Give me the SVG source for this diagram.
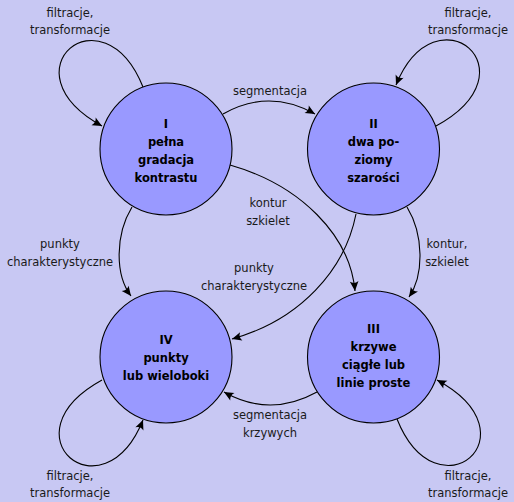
<svg xmlns="http://www.w3.org/2000/svg" width="514" height="502" viewBox="0 0 514 502">
  <style>
    .bg { fill: #c8c8f3; }
    .state { fill: #9999ff; stroke: #000; stroke-width: 1.1; }
    .name { font-family: "DejaVu Sans", "Liberation Sans", sans-serif; font-size: 11.5px; font-weight: bold; fill: #000; text-anchor: middle; }
    .lbl { font-family: "DejaVu Sans", "Liberation Sans", sans-serif; font-size: 11.5px; fill: #1a1a1a; text-anchor: middle; }
    .edge { fill: none; stroke: #000; stroke-width: 1.1; marker-end: url(#tip); }
  </style>
  <defs>
    <marker id="tip" markerUnits="userSpaceOnUse" markerWidth="12" markerHeight="12" refX="0" refY="0" viewBox="-9 -5 10 10" orient="auto">
      <path d="M0,0 L-8,-3.6 Q-5.5,0 -8,3.6 Z" fill="#000"/>
    </marker>
  </defs>

  <rect class="bg" x="0" y="0" width="514" height="502"/>

  <!-- transitions between the four image representations -->
  <g id="connectors">
    <!-- self loops -->
    <path class="edge" d="M143,87 C103,-13 2,71 102,126"/>
    <path class="edge" d="M436,126 C537,71 436,-13 396,85"/>
    <path class="edge" d="M102,380 C2,435 103,519 143,420"/>
    <path class="edge" d="M397,419 C437,519 538,435 437,380"/>
    <!-- I -> II -->
    <path class="edge" d="M223,114 Q269,88 315,114"/>
    <!-- I -> III -->
    <path class="edge" d="M230,165 C300,185 350,235 355,291"/>
    <!-- II -> IV -->
    <path class="edge" d="M356,214 C345,270 300,320 232,339"/>
    <!-- I -> IV -->
    <path class="edge" d="M132,207 C115,235 115,275 131,296"/>
    <!-- II -> III -->
    <path class="edge" d="M407,207 C424,235 424,275 409,297"/>
    <!-- III -> IV -->
    <path class="edge" d="M317,392 Q270,418 224,392"/>

    <!-- edge labels -->
    <text class="lbl" x="70" y="17">filtracje,</text>
    <text class="lbl" x="70" y="34">transformacje</text>
    <text class="lbl" x="468" y="17">filtracje,</text>
    <text class="lbl" x="468" y="34">transformacje</text>
    <text class="lbl" x="70" y="480">filtracje,</text>
    <text class="lbl" x="70" y="497">transformacje</text>
    <text class="lbl" x="468" y="480">filtracje,</text>
    <text class="lbl" x="468" y="497">transformacje</text>
    <text class="lbl" x="270" y="95">segmentacja</text>
    <text class="lbl" x="268" y="207">kontur</text>
    <text class="lbl" x="268" y="225">szkielet</text>
    <text class="lbl" x="254" y="272">punkty</text>
    <text class="lbl" x="254" y="290">charakterystyczne</text>
    <text class="lbl" x="60" y="248">punkty</text>
    <text class="lbl" x="60" y="266">charakterystyczne</text>
    <text class="lbl" x="447" y="248">kontur,</text>
    <text class="lbl" x="447" y="266">szkielet</text>
    <text class="lbl" x="270" y="419">segmentacja</text>
    <text class="lbl" x="270" y="437">krzywych</text>
  </g>

  <g id="node-I">
    <circle class="state" cx="166" cy="149" r="66"/>
    <text class="name" x="166" y="128">I</text>
    <text class="name" x="166" y="146">pełna</text>
    <text class="name" x="166" y="164">gradacja</text>
    <text class="name" x="166" y="182">kontrastu</text>
  </g>

  <g id="node-II">
    <circle class="state" cx="373.5" cy="149" r="66"/>
    <text class="name" x="373.5" y="128">II</text>
    <text class="name" x="373.5" y="146">dwa po-</text>
    <text class="name" x="373.5" y="164">ziomy</text>
    <text class="name" x="373.5" y="182">szarości</text>
  </g>

  <g id="node-III">
    <circle class="state" cx="373.5" cy="357" r="66"/>
    <text class="name" x="373.5" y="333">III</text>
    <text class="name" x="373.5" y="351">krzywe</text>
    <text class="name" x="373.5" y="369">ciągłe lub</text>
    <text class="name" x="373.5" y="387">linie proste</text>
  </g>

  <g id="node-IV">
    <circle class="state" cx="166" cy="357" r="66"/>
    <text class="name" x="166" y="344">IV</text>
    <text class="name" x="166" y="362">punkty</text>
    <text class="name" x="166" y="380">lub wieloboki</text>
  </g>
</svg>
